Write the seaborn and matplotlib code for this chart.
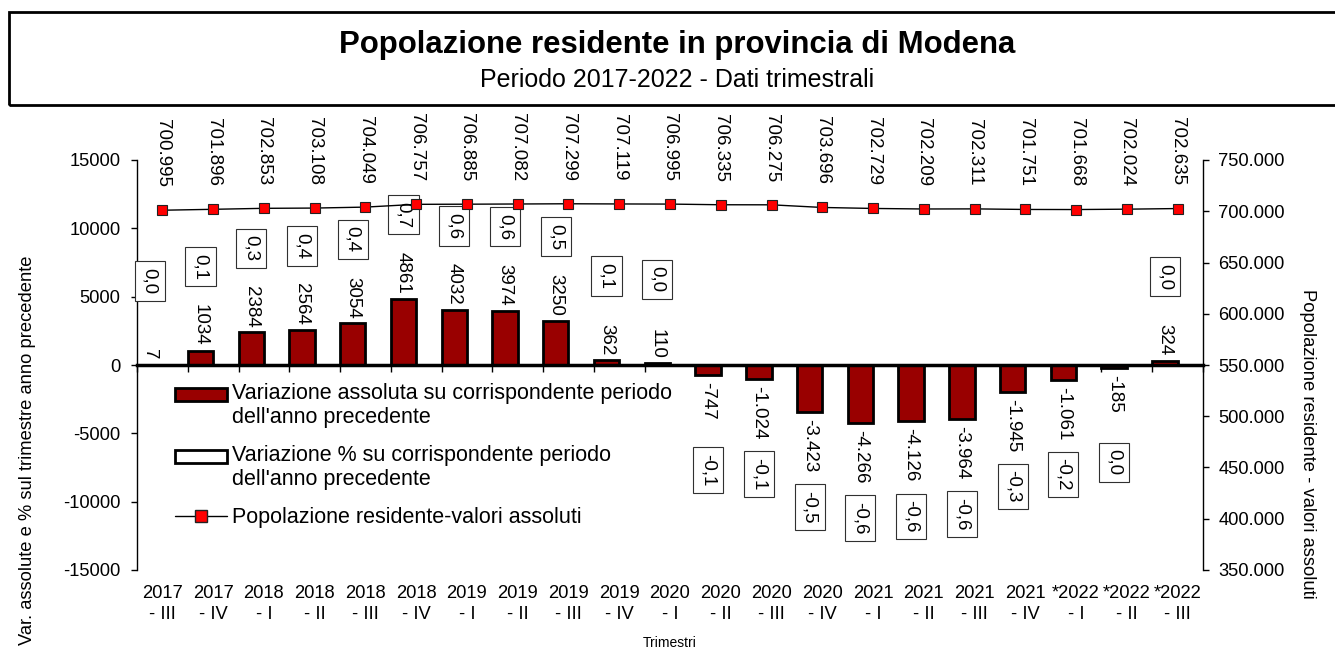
import numpy as np
import pandas as pd
import matplotlib.pyplot as plt
from matplotlib.patches import Patch, Rectangle
from matplotlib.lines import Line2D
import seaborn as sns

# dati trimestrali
trimestri = ['2017\n- III', '2017\n- IV', '2018\n- I', '2018\n- II', '2018\n- III', '2018\n- IV',
             '2019\n- I', '2019\n- II', '2019\n- III', '2019\n- IV', '2020\n- I', '2020\n- II',
             '2020\n- III', '2020\n- IV', '2021\n- I', '2021\n- II', '2021\n- III', '2021\n- IV',
             '*2022\n- I', '*2022\n- II', '*2022\n- III']
var_assoluta = [7, 1034, 2384, 2564, 3054, 4861, 4032, 3974, 3250, 362, 110,
                -747, -1024, -3423, -4266, -4126, -3964, -1945, -1061, -185, 324]
var_percentuale = [0.0, 0.1, 0.3, 0.4, 0.4, 0.7, 0.6, 0.6, 0.5, 0.1, 0.0,
                   -0.1, -0.1, -0.5, -0.6, -0.6, -0.6, -0.3, -0.2, 0.0, 0.0]
popolazione = [700995, 701896, 702853, 703108, 704049, 706757, 706885, 707082, 707299, 707119, 706995,
               706335, 706275, 703696, 702729, 702209, 702311, 701751, 701668, 702024, 702635]

ROSSO_SCURO = '#990000'
ROSSO = '#FF0000'

sns.set_style('white')
plt.rcParams['font.family'] = ['Liberation Sans', 'DejaVu Sans']
plt.rcParams['axes.unicode_minus'] = False
plt.rcParams['text.color'] = 'black'
plt.rcParams['axes.labelcolor'] = 'black'
plt.rcParams['xtick.color'] = 'black'
plt.rcParams['ytick.color'] = 'black'


def punti(v):
    # separatore delle migliaia all'italiana
    return f"{v:,}".replace(',', '.')


n = len(trimestri)
df = pd.DataFrame({
    'trimestre': trimestri * 2,
    'valore': var_assoluta + var_percentuale,
    'serie': ['assoluta'] * n + ['percentuale'] * n,
})

fig = plt.figure(figsize=(13.35, 6.49), dpi=100)
ax = fig.add_axes([137 / 1335, 1 - 570 / 649, 1066 / 1335, 410 / 649])

sns.barplot(data=df, x='trimestre', y='valore', hue='serie', order=trimestri,
            hue_order=['assoluta', 'percentuale'],
            palette={'assoluta': ROSSO_SCURO, 'percentuale': 'white'},
            saturation=1, width=1, gap=0, edgecolor='black', linewidth=2,
            errorbar=None, legend=False, ax=ax)

ax.set_xlim(-0.5, n - 0.5)
ax.set_ylim(-15000, 15000)
ax.set_yticks(np.arange(-15000, 15001, 5000))
ax.set_xticks(range(n))
ax.set_xticklabels(trimestri, fontsize=13.2, linespacing=1.3)
ax.tick_params(axis='x', length=0, pad=11)
ax.tick_params(axis='y', left=True, direction='out', length=4, width=1, pad=8,
               labelsize=13.2, color='black')
for s in ['top', 'right', 'bottom']:
    ax.spines[s].set_visible(False)
ax.spines['left'].set_color('black')
ax.spines['left'].set_linewidth(1)

# asse orizzontale sullo zero con tacche tra i trimestri
asse_zero = ax.secondary_xaxis(0.5)
asse_zero.set_alignment('bottom')
asse_zero.set_xticks(np.arange(-0.5, n, 1), labels=[])
asse_zero.tick_params(axis='x', bottom=True, direction='out', length=5, width=1, color='black')
asse_zero.spines['bottom'].set_linewidth(2.5)
asse_zero.spines['bottom'].set_color('black')
asse_zero.set_zorder(3)

# etichette barre e box percentuali
for rect, v, p in zip(ax.containers[0], var_assoluta, var_percentuale):
    xc = rect.get_x() + rect.get_width() / 2
    testo = str(v) if v >= 0 else punti(v)
    su = v >= 0
    ax.annotate(testo, (xc, v), xytext=(0, 5 if su else -7), textcoords='offset pixels',
                rotation=-90, ha='center', va='bottom' if su else 'top', fontsize=13.5)
    ax.annotate(f"{p:.1f}".replace('.', ','), (xc, v), xytext=(0, 84 if su else -95),
                textcoords='offset pixels', rotation=-90, ha='center', va='center',
                fontsize=13.5,
                bbox=dict(boxstyle='square,pad=0.35', fc='white', ec='#303030', lw=0.8))

ax.set_ylabel('Var. assolute e % sul trimestre anno precedente', fontsize=13.2,
              va='center', ha='center')
ax.yaxis.set_label_coords(-0.103, 0.293)
ax.set_xlabel('Trimestri', fontsize=10, va='center')
ax.xaxis.set_label_coords(0.5, -0.178)

# popolazione residente sull'asse secondario
ax2 = ax.twinx()
sns.lineplot(x=np.arange(n), y=popolazione, ax=ax2, color='black', linewidth=1,
             marker='s', markersize=7.7, markerfacecolor=ROSSO,
             markeredgecolor='#222222', markeredgewidth=0.8)
ax2.set_ylim(350000, 750000)
ax2.set_xlim(-0.5, n - 0.5)
tick_pop = np.arange(350000, 750001, 50000)
ax2.set_yticks(tick_pop)
ax2.set_yticklabels([punti(int(t)) for t in tick_pop])
ax2.tick_params(axis='y', right=True, direction='out', length=4, width=1, pad=7,
                labelsize=13.2, color='black')
for s in ['top', 'left', 'bottom']:
    ax2.spines[s].set_visible(False)
ax2.spines['right'].set_color('black')
ax2.spines['right'].set_linewidth(1)
for x, v in zip(range(n), popolazione):
    ax2.annotate(punti(v), (x, v), xytext=(0, 23), textcoords='offset pixels',
                 rotation=-90, ha='center', va='bottom', fontsize=13.5)
ax2.set_ylabel('Popolazione residente - valori assoluti', fontsize=13.2,
               rotation=-90, va='center', ha='center')
ax2.yaxis.set_label_coords(1.0976, 0.307)

# legenda
maniglie = [
    Patch(facecolor=ROSSO_SCURO, edgecolor='black', linewidth=2),
    Patch(facecolor='white', edgecolor='black', linewidth=2),
    Line2D([], [], color='black', linewidth=1, marker='s', markersize=8,
           markerfacecolor=ROSSO, markeredgecolor='#222222'),
]
etichette = ["Variazione assoluta su corrispondente periodo\ndell'anno precedente",
             "Variazione % su corrispondente periodo\ndell'anno precedente",
             'Popolazione residente-valori assoluti']
leg = ax.legend(maniglie, etichette, loc='upper left', bbox_to_anchor=(0.0356, 0.456),
                frameon=False, fontsize=15.5, handlelength=2.4, handleheight=0.6,
                handletextpad=0.25, labelspacing=0.78, borderpad=0, borderaxespad=0)
# simbolo allineato alla prima riga del testo
for h in leg.legend_handles[:2]:
    h.set_y(h.get_y() + 8.3)

# riquadro del titolo
fig.add_artist(Rectangle((0.007, 1 - 105 / 649), 1.1, 93 / 649, transform=fig.transFigure,
                         fill=False, edgecolor='black', linewidth=2))
fig.text(0.507, 1 - 45 / 649, 'Popolazione residente in provincia di Modena',
         ha='center', va='center', fontsize=22.4, fontweight='bold')
fig.text(0.507, 1 - 80 / 649, 'Periodo 2017-2022 - Dati trimestrali',
         ha='center', va='center', fontsize=18)

fig.savefig('out.png', dpi=100)
